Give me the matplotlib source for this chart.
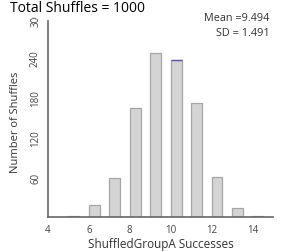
import matplotlib
matplotlib.use("Agg")
import matplotlib.pyplot as plt
from matplotlib.transforms import Bbox, TransformedBbox

# === data ===
successes = [5, 6, 7, 8, 9, 10, 11, 12, 13, 14]
counts = [2, 19, 59, 164, 246, 236, 171, 61, 14, 2]
x_ticks = [4, 6, 8, 10, 12, 14]
y_ticks = [60, 120, 180, 240, 300]
total_shuffles = 1000
mean_val = 9.494
sd_val = 1.491

plt.rcParams['font.family'] = ['Open Sans', 'DejaVu Sans']

fig = plt.figure(figsize=(2.84, 2.53), dpi=100)
ax = fig.add_axes([0.169, 0.137, 0.792, 0.791])

bars = ax.bar(successes, counts, width=0.53, align='edge',
              color='#d4d4d4', edgecolor='#a6a6a6', linewidth=0.9)

# the bar at 10 has a blue-ish top edge in the reference
b10 = bars[successes.index(10)]
ax.plot([b10.get_x(), b10.get_x() + b10.get_width()], [b10.get_height()] * 2,
        color='#5a5aa8', linewidth=1.0, solid_capstyle='butt')

ax.set_xlim(4, 15)
ax.set_ylim(0, 300)
ax.set_xticks(x_ticks)
ax.set_yticks(y_ticks)
ax.tick_params(length=0, labelsize=7, labelcolor='#444444', pad=5)

# top tick label is cut off under the title in the reference
clip = TransformedBbox(Bbox([[0, 0], [1, 0.928]]), fig.transFigure)
for lbl in ax.get_yticklabels():
    lbl.set_rotation(90)
    lbl.set_va('center')
    lbl.set_clip_on(True)
    lbl.set_clip_box(clip)

for s in ['top', 'right']:
    ax.spines[s].set_visible(False)
for s in ['left', 'bottom']:
    ax.spines[s].set_color('#666666')
    ax.spines[s].set_linewidth(1.2)
ax.spines['left'].set_bounds(0, 295)

ax.set_xlabel("ShuffledGroupA Successes", fontsize=8.5, color='#333333', labelpad=1.5)
ax.set_ylabel("Number of Shuffles", fontsize=8, color='#333333')
ax.yaxis.set_label_coords(-0.12, 0.48)

fig.text(0.035, 0.995, f"Total Shuffles = {total_shuffles}", fontsize=10,
         ha='left', va='top', color='black')

ax.text(0.985, 1.0, f"Mean ={mean_val}", transform=ax.transAxes,
        ha='right', va='center', fontsize=7.8, color='#333333')
ax.text(0.985, 0.925, f"SD = {sd_val}", transform=ax.transAxes,
        ha='right', va='center', fontsize=7.8, color='#333333')

fig.savefig("out.png", dpi=100)
